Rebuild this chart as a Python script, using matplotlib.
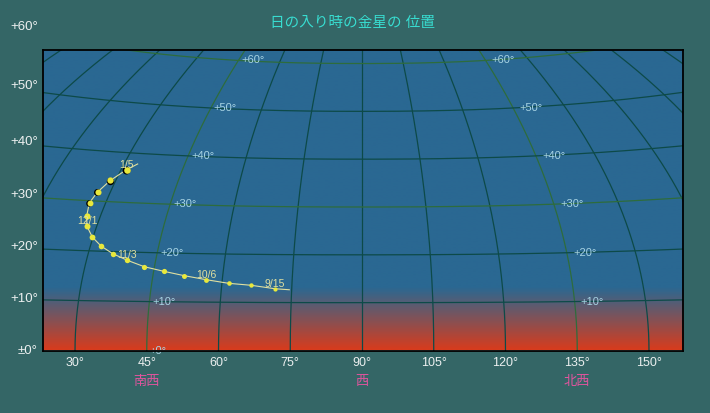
import numpy as np
import matplotlib
matplotlib.use("Agg")
import matplotlib.pyplot as plt
import matplotlib.transforms as mtransforms
from matplotlib.colors import LinearSegmentedColormap

plt.rcParams['font.family'] = ['Liberation Sans', 'Noto Sans CJK JP', 'DejaVu Sans']

# ---------------- data ----------------
title = "日の入り時の金星の 位置"

az_ticks = [30, 45, 60, 75, 90, 105, 120, 135, 150]
az_tick_labels = ["30°", "45°", "60°", "75°", "90°", "105°", "120°", "135°", "150°"]

alt_ticks = [0, 10, 20, 30, 40, 50, 60]
alt_tick_labels = ["±0°", "+10°", "+20°", "+30°", "+40°", "+50°", "+60°"]

direction_names = ["南西", "西", "北西"]
direction_az = [45, 90, 135]

grid_az = list(range(-90, 271, 15))          # azimuth circles
grid_alt = [0, 10, 20, 30, 40, 50, 60]       # altitude circles
highlight_az = [45, 135]
highlight_alt = [30, 60]
grid_label_az_left = 45
grid_label_az_right = 135

# Venus positions (read on the chart's azimuth / altitude frame)
venus_dates = ["9/15", "9/22", "9/29", "10/6", "10/13", "10/20", "10/27",
               "11/3", "11/10", "11/17", "11/24", "12/1", "12/8", "12/15",
               "12/22", "12/29", "1/5"]
venus_az = [71.75, 66.86, 62.09, 57.45, 52.85, 48.54, 44.48,
            40.93, 37.88, 35.43, 33.61, 32.50, 32.44, 32.99,
            34.66, 37.31, 40.66]
venus_alt = [12.92, 13.63, 14.05, 14.80, 15.64, 16.56, 17.52,
             18.86, 20.24, 21.85, 23.73, 25.97, 28.12, 30.84,
             33.08, 35.50, 37.74]
venus_diam = [4.2, 4.4, 4.6, 4.8, 5.0, 5.2, 5.2, 5.4, 5.4, 5.6, 5.8, 6.0,
              6.2, 6.6, 7.0, 7.4, 8.0]
venus_shadow = [0, 0, 0, 0, 0, 0, 0, 0, 0, 0, 0, 0, 0, 0.7, 0.9, 1.1, 1.4]
venus_labelled = ["9/15", "10/6", "11/3", "12/1", "1/5"]
track_start = (74.8, 12.7)
track_end = (43.1, 39.0)

# ---------------- projection of the horizon grid ----------------
K_RISE = 2.1e-4
P_RISE = 2.3
P_CONV = 0.8


def rise(X, alt):
    return np.tan(np.radians(alt)) * K_RISE * np.abs(X) ** P_RISE


def to_chart(az, alt):
    az = np.asarray(az, float)
    alt = np.asarray(alt, float)
    A = az - 90.0
    X = A * np.cos(np.radians(alt)) ** P_CONV
    Y = alt + rise(X, alt)
    return 90.0 + X, Y


# ---------------- figure ----------------
BG = '#346666'
SKY = '#2A6892'
HORIZON = '#D63C1E'
DARK = '#0D4A48'
GREEN = '#2E6C3C'

W, H = 710, 413
fig = plt.figure(figsize=(W / 100, H / 100), dpi=100, facecolor=BG)
L, R, T, B = 42.5, 683.0, 50.0, 350.5
ax = fig.add_axes([L / W, (H - B) / H, (R - L) / W, (B - T) / H])

pxdeg = 4.783
x0 = 90 + (L - 362) / pxdeg
x1 = 90 + (R - 362) / pxdeg
ymax = (B - T) / pxdeg

cmap = LinearSegmentedColormap.from_list(
    'sky', [(0.0, HORIZON), (13.0 / ymax, SKY), (1.0, SKY)])
ax.imshow(np.linspace(0, 1, 400).reshape(-1, 1), extent=[x0, x1, 0, ymax],
          origin='lower', cmap=cmap, aspect='auto', zorder=0,
          interpolation='bilinear')

# grid: azimuth circles
h_fine = np.linspace(0, 85, 300)
for az in grid_az:
    x, y = to_chart(np.full_like(h_fine, az), h_fine)
    col = GREEN if az in highlight_az else DARK
    ax.plot(x, y, color=col, lw=0.9, zorder=1)

# grid: altitude circles
a_fine = np.linspace(-90, 270, 1441)
for h in grid_alt:
    x, y = to_chart(a_fine, np.full_like(a_fine, h))
    col = GREEN if h in highlight_alt else DARK
    ax.plot(x, y, color=col, lw=0.9, zorder=1)

# altitude labels on the grid
for h, lab in zip(alt_ticks, alt_tick_labels):
    lab_in = "+" + lab[1:] if h == 0 else lab
    xl, yl = to_chart(grid_label_az_left, h)
    t = ax.annotate(lab_in, xy=(xl, yl), xytext=(2.2, 0), textcoords='offset points',
                    ha='left', va='center', fontsize=8, color='#A8D4E4', zorder=2,
                    annotation_clip=False)
    t.set_clip_on(True)
    if h > 0:
        xr, yr = to_chart(grid_label_az_right, h)
        ax.annotate(lab_in, xy=(xr, yr), xytext=(4.5, 0), textcoords='offset points',
                    ha='left', va='center', fontsize=8, color='#A8D4E4', zorder=2)

# left altitude scale labels
btf = mtransforms.blended_transform_factory(ax.transAxes, ax.transData)
for h, lab in zip(alt_ticks, alt_tick_labels):
    yl = h + rise(75.5, h)
    ax.text(-(L - 38) / (R - L), yl, lab, transform=btf, ha='right', va='center',
            fontsize=9.5, color='#ECF0F0', clip_on=False)

# bottom azimuth labels
ax.set_xlim(x0, x1)
ax.set_ylim(0, ymax)
ax.set_xticks(az_ticks)
ax.set_xticklabels(az_tick_labels)
ax.set_yticks([])
ax.tick_params(axis='x', length=0, pad=4.5, labelsize=9, labelcolor='#ECF0F0')

btf2 = mtransforms.blended_transform_factory(ax.transData, ax.transAxes)
for name, az in zip(direction_names, direction_az):
    ax.text(az, -(381.5 - B) / (B - T), name, transform=btf2, ha='center',
            va='center', fontsize=9.5, color='#E0559E', clip_on=False)

for sp in ax.spines.values():
    sp.set_color('black')
    sp.set_linewidth(1.3)

# Venus track
ax.plot([track_start[0]] + venus_az + [track_end[0]],
        [track_start[1]] + venus_alt + [track_end[1]],
        color='#E0E0A0', lw=0.8, zorder=3)
YEL = '#E8E83C'
for i in range(len(venus_az)):
    az, alt = venus_az[i], venus_alt[i]
    d = venus_diam[i]
    sh = venus_shadow[i]
    if sh > 0:
        ax.plot(az, alt, 'o', ms=d * 0.72, mfc='black', mec='none', zorder=4)
        off = mtransforms.ScaledTranslation(sh / 2 * 0.87 / 100, sh / 2 * 0.5 / 100,
                                            fig.dpi_scale_trans)
        ax.plot(az, alt, 'o', ms=(d - sh) * 0.72, mfc=YEL, mec='none',
                transform=ax.transData + off, zorder=5)
    else:
        ax.plot(az, alt, 'o', ms=d * 0.72, mfc=YEL, mec='none', zorder=4)
    if venus_dates[i] in venus_labelled:
        ax.annotate(venus_dates[i], xy=(az, alt), xytext=(0, 1.5),
                    textcoords='offset points', ha='center', va='baseline',
                    fontsize=7.5, color='#E0E0A0', zorder=6)

fig.text(353 / W, 1 - 23 / H, title, ha='center', va='center', fontsize=10.5,
         color='#38DCD0')

fig.savefig('out.png', dpi=100, facecolor=BG)
